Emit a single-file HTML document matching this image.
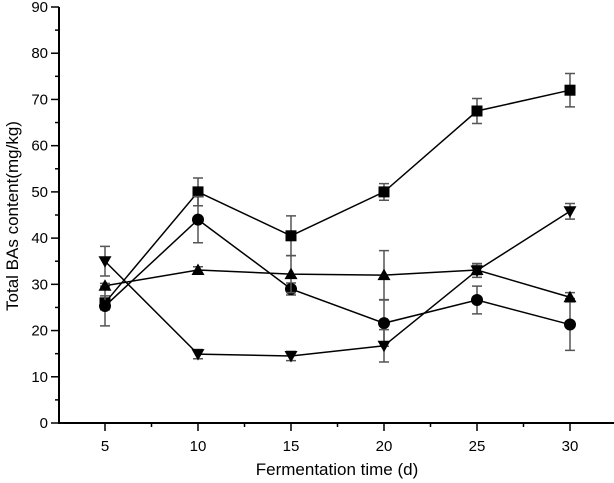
<!DOCTYPE html>
<html><head><meta charset="utf-8"><style>
body{margin:0;background:#fff;width:614px;height:483px;overflow:hidden}
svg{display:block;font-family:"Liberation Sans",Arial,sans-serif}
</style></head><body>
<svg id="chart" width="614" height="483" viewBox="0 0 614 483" xmlns="http://www.w3.org/2000/svg"></svg>
<script>
const days = [5, 10, 15, 20, 25, 30];
const squareVals = [26, 50, 40.5, 50, 67.5, 72];
const squareErr = [1.5, 3, 4.3, 1.8, 2.7, 3.6];
const circleVals = [25.3, 44, 29, 21.6, 26.6, 21.3];
const circleErr = [4.3, 5, 1.3, 5, 3, 5.6];
const upVals = [29.7, 33.1, 32.2, 32, 33.1, 27.2];
const upErr = [0.5, 0.7, 4, 5.3, 1, 1];
const downVals = [35, 14.9, 14.5, 16.7, 33, 45.8];
const downErr = [3.2, 1, 1, 3.5, 1.5, 1.7];
const xTicks = [5, 10, 15, 20, 25, 30];
const yTicks = [0, 10, 20, 30, 40, 50, 60, 70, 80, 90];

const NS = "http://www.w3.org/2000/svg";
const svg = document.getElementById('chart');
const X0 = 59, Y0 = 423;
const xs = v => 105 + (v - 5) * 18.6;
const ys = v => Y0 - v * (416 / 90);
function mk(tag, attrs, parent) {
  const e = document.createElementNS(NS, tag);
  for (const k in attrs) e.setAttribute(k, attrs[k]);
  (parent || svg).appendChild(e);
  return e;
}
// axes
let a = mk('line', {x1: X0, y1: 7, x2: X0, y2: Y0 + 1, stroke: '#000', 'stroke-width': 2});


a = mk('line', {x1: X0 - 1, y1: Y0, x2: 614, y2: Y0, stroke: '#000', 'stroke-width': 2});


yTicks.forEach(t => {
  const y = ys(t);
  mk('line', {x1: X0 - 8, y1: y, x2: X0, y2: y, stroke: '#000', 'stroke-width': 1.5});
  if (t < 90) mk('line', {x1: X0 - 4, y1: ys(t + 5), x2: X0, y2: ys(t + 5), stroke: '#000', 'stroke-width': 1.5});
  const tx = mk('text', {x: X0 - 11, y: y + 5, 'text-anchor': 'end', 'font-size': 15});
  tx.textContent = t;
  
  
});
xTicks.forEach(t => {
  const x = xs(t);
  mk('line', {x1: x, y1: Y0, x2: x, y2: Y0 + 8, stroke: '#000', 'stroke-width': 1.5});
  mk('line', {x1: xs(t + 2.5), y1: Y0, x2: xs(t + 2.5), y2: Y0 + 4, stroke: '#000', 'stroke-width': 1.5});
  const tx = mk('text', {x: x, y: Y0 + 28, 'text-anchor': 'middle', 'font-size': 15});
  tx.textContent = t;
  
  
});
let lab = mk('text', {x: 337, y: 475, 'text-anchor': 'middle', 'font-size': 17});
lab.textContent = 'Fermentation time (d)';


lab = mk('text', {x: 0, y: 0, 'text-anchor': 'middle', 'font-size': 17, transform: 'translate(18,216) rotate(-90)'});
lab.textContent = 'Total BAs content(mg/kg)';



function marker(g, shape, x, y) {
  if (shape === 'square') mk('rect', {x: x - 5.5, y: y - 5.5, width: 11, height: 11, fill: '#000'}, g);
  else if (shape === 'circle') mk('circle', {cx: x, cy: y, r: 6, fill: '#000'}, g);
  else if (shape === 'up') mk('polygon', {points: `${x},${y-6.5} ${x-6.5},${y+5} ${x+6.5},${y+5}`, fill: '#000'}, g);
  else mk('polygon', {points: `${x},${y+6.5} ${x-6.5},${y-5} ${x+6.5},${y-5}`, fill: '#000'}, g);
}
function series(name, shape, vals, errs) {
  const g = mk('g', {});
  
  
  vals.forEach((v, i) => {
    const x = xs(days[i]);
    const e = mk('path', {d: `M${x},${ys(v - errs[i])}V${ys(v + errs[i])}M${x-5},${ys(v - errs[i])}H${x+5}M${x-5},${ys(v + errs[i])}H${x+5}`, stroke: '#555', 'stroke-width': 1.5, fill: 'none'}, g);
    
    
  });
  const pl = mk('polyline', {points: vals.map((v, i) => xs(days[i]) + ',' + ys(v)).join(' '), fill: 'none', stroke: '#000', 'stroke-width': 1.5}, g);
  
  
  vals.forEach((v, i) => marker(g, shape, xs(days[i]), ys(v)));
}
series('series-square', 'square', squareVals, squareErr);
series('series-circle', 'circle', circleVals, circleErr);
series('series-triangle-up', 'up', upVals, upErr);
series('series-triangle-down', 'down', downVals, downErr);
</script>
</body></html>
